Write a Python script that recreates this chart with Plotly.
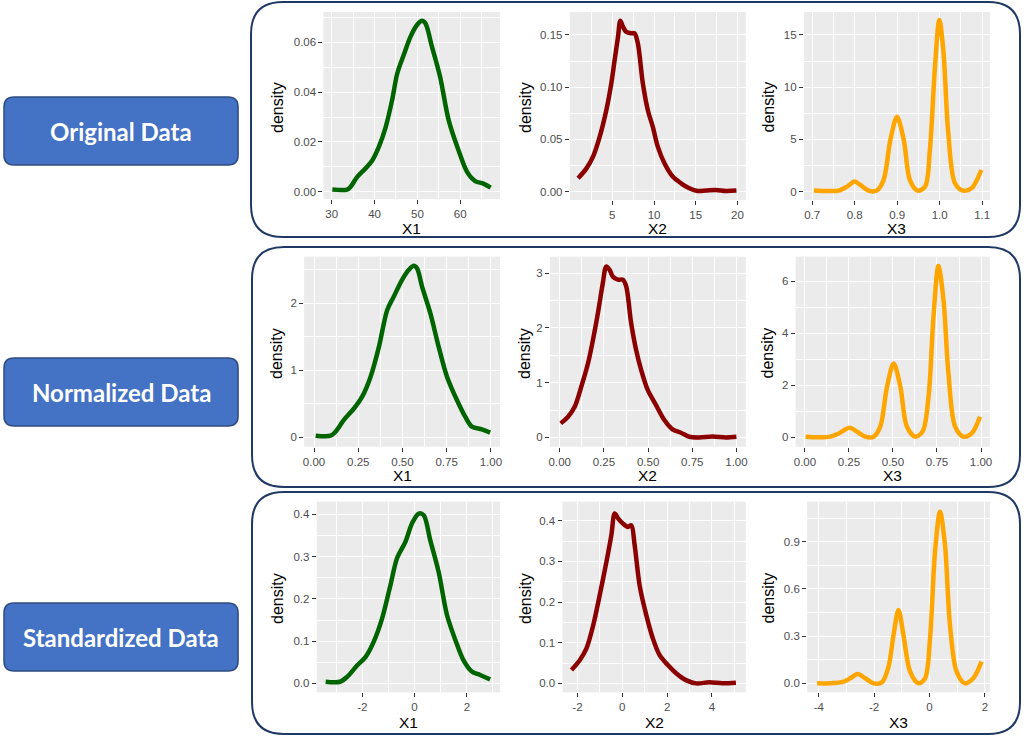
import plotly.graph_objects as go

# ---------------- DATA ----------------
row_labels = ["Original Data", "Normalized Data", "Standardized Data"]
var_names = ["X1", "X2", "X3"]

# Original data
orig_x1_x = [30.15, 33.6, 34.4, 35.97, 37.9, 39.5, 41.0, 42.6, 44.1, 45.3, 46.8, 48.4, 49.9, 51.1, 51.9, 53.4, 55.3, 57.3, 59.6, 61.6, 63.5, 65.4, 67.1]
orig_x1_y = [0.0009, 0.0009, 0.002, 0.006, 0.0094, 0.0127, 0.018, 0.026, 0.0368, 0.0475, 0.0549, 0.0623, 0.067, 0.0687, 0.0676, 0.0583, 0.0462, 0.0288, 0.0167, 0.008, 0.0043, 0.0033, 0.0017]
orig_x2_x = [0.90, 1.90, 2.69, 3.49, 4.28, 4.88, 5.28, 5.68, 5.96, 6.27, 6.67, 7.27, 7.67, 8.06, 8.66, 9.26, 9.85, 10.45, 11.25, 12.24, 13.24, 14.23, 15.23, 16.22, 17.42, 18.61, 19.88]
orig_x2_y = [0.0128, 0.0223, 0.0335, 0.0527, 0.078, 0.1037, 0.126, 0.148, 0.1637, 0.158, 0.153, 0.1516, 0.1516, 0.142, 0.1037, 0.078, 0.0622, 0.0431, 0.0271, 0.0144, 0.008, 0.0032, 0.0006, 0.001, 0.0016, 0.0006, 0.001]
orig_x3_x = [0.704, 0.731, 0.7625, 0.782, 0.80, 0.8133, 0.833, 0.852, 0.868, 0.884, 0.8996, 0.9156, 0.93, 0.948, 0.9656, 0.977, 0.989, 0.9992, 1.0086, 1.0203, 1.036, 1.055, 1.075, 1.098]
orig_x3_y = [0.1, 0.06, 0.1, 0.48, 0.96, 0.64, 0.1, 0.1, 1.1, 4.95, 7.18, 4.95, 1.1, 0.1, 0.48, 4.0, 11.97, 16.44, 13.56, 5.59, 0.8, 0.1, 0.32, 2.07]

# Normalized data
norm_x1_x = [0.0094, 0.094, 0.122, 0.169, 0.226, 0.273, 0.32, 0.367, 0.414, 0.451, 0.498, 0.536, 0.564, 0.583, 0.611, 0.658, 0.705, 0.752, 0.808, 0.855, 0.893, 0.949, 0.996]
norm_x1_y = [0.025, 0.025, 0.085, 0.26, 0.43, 0.61, 0.905, 1.35, 1.90, 2.10, 2.35, 2.50, 2.56, 2.52, 2.25, 1.85, 1.35, 0.905, 0.557, 0.308, 0.159, 0.119, 0.07]
norm_x2_x = [0.0056, 0.047, 0.0846, 0.122, 0.16, 0.188, 0.216, 0.244, 0.263, 0.282, 0.30, 0.329, 0.357, 0.376, 0.404, 0.432, 0.461, 0.498, 0.545, 0.592, 0.639, 0.686, 0.733, 0.789, 0.865, 0.94, 1.0]
norm_x2_y = [0.256, 0.378, 0.56, 0.927, 1.354, 1.78, 2.27, 2.82, 3.12, 3.06, 2.94, 2.88, 2.88, 2.76, 2.09, 1.60, 1.23, 0.866, 0.59, 0.317, 0.146, 0.085, 0.012, 0.0, 0.018, 0.0, 0.012]
norm_x3_x = [0.004, 0.079, 0.145, 0.192, 0.253, 0.296, 0.343, 0.39, 0.428, 0.466, 0.504, 0.542, 0.579, 0.626, 0.668, 0.702, 0.73, 0.758, 0.787, 0.815, 0.853, 0.9, 0.947, 0.994]
norm_x3_y = [0.026, 0.0, 0.026, 0.15, 0.37, 0.22, 0.026, 0.026, 0.41, 1.94, 2.84, 1.94, 0.41, 0.026, 0.22, 1.56, 4.63, 6.58, 5.27, 2.46, 0.41, 0.026, 0.15, 0.79]

# Standardized data
std_x1_x = [-3.40, -2.85, -2.57, -2.19, -1.87, -1.56, -1.24, -0.92, -0.67, -0.35, -0.095, 0.16, 0.35, 0.60, 0.92, 1.24, 1.56, 1.87, 2.19, 2.51, 2.89]
std_x1_y = [0.004, 0.004, 0.016, 0.043, 0.063, 0.099, 0.154, 0.233, 0.296, 0.335, 0.379, 0.402, 0.398, 0.339, 0.264, 0.162, 0.103, 0.055, 0.028, 0.020, 0.0095]
std_x2_x = [-2.27, -1.90, -1.60, -1.30, -1.01, -0.71, -0.49, -0.34, -0.19, 0.03, 0.25, 0.40, 0.55, 0.77, 1.07, 1.36, 1.66, 2.03, 2.40, 2.84, 3.29, 3.88, 4.47, 5.07]
std_x2_y = [0.033, 0.057, 0.086, 0.143, 0.217, 0.299, 0.365, 0.418, 0.406, 0.393, 0.385, 0.389, 0.34, 0.242, 0.168, 0.111, 0.07, 0.045, 0.025, 0.008, 0.0, 0.0025, 0.0, 0.0016]
std_x3_x = [-4.06, -3.58, -3.10, -2.86, -2.60, -2.32, -2.02, -1.72, -1.48, -1.30, -1.12, -0.94, -0.70, -0.40, -0.16, 0.02, 0.20, 0.38, 0.56, 0.74, 0.98, 1.28, 1.58, 1.88]
std_x3_y = [0.0, 0.0, 0.011, 0.032, 0.059, 0.032, 0.0, 0.006, 0.106, 0.307, 0.466, 0.307, 0.074, 0.0, 0.032, 0.286, 0.837, 1.091, 0.879, 0.371, 0.074, 0.0, 0.032, 0.138]

# Tick values / labels
orig_x1_ticks = [30, 40, 50, 60]
orig_x1_ticklabels = ["30", "40", "50", "60"]
orig_x1_yticks = [0, 0.02, 0.04, 0.06]
orig_x1_yticklabels = ["0.00", "0.02", "0.04", "0.06"]
orig_x2_ticks = [5, 10, 15, 20]
orig_x2_ticklabels = ["5", "10", "15", "20"]
orig_x2_yticks = [0, 0.05, 0.10, 0.15]
orig_x2_yticklabels = ["0.00", "0.05", "0.10", "0.15"]
orig_x3_ticks = [0.7, 0.8, 0.9, 1.0, 1.1]
orig_x3_ticklabels = ["0.7", "0.8", "0.9", "1.0", "1.1"]
orig_x3_yticks = [0, 5, 10, 15]
orig_x3_yticklabels = ["0", "5", "10", "15"]
norm_ticks = [0, 0.25, 0.5, 0.75, 1.0]
norm_ticklabels = ["0.00", "0.25", "0.50", "0.75", "1.00"]
norm_x1_yticks = [0, 1, 2]
norm_x2_yticks = [0, 1, 2, 3]
norm_x3_yticks = [0, 2, 4, 6]
std_x1_ticks = [-2, 0, 2]
std_x2_ticks = [-2, 0, 2, 4]
std_x3_ticks = [-4, -2, 0, 2]
std_x12_yticks = [0, 0.1, 0.2, 0.3, 0.4]
std_x12_yticklabels = ["0.0", "0.1", "0.2", "0.3", "0.4"]
std_x3_yticks = [0, 0.3, 0.6, 0.9]
std_x3_yticklabels = ["0.0", "0.3", "0.6", "0.9"]

# ---------------- LAYOUT / STYLE ----------------
W, H = 1024, 741
colors = ["#006400", "#8B0000", "#FFA500"]

def px_x(v):
    return v / W

def px_y(v):
    return 1 - v / H

def minor_of(ticks, lo, hi):
    step = ticks[1] - ticks[0]
    vals = []
    m = ticks[0] - step / 2
    while m <= hi:
        if m >= lo:
            vals.append(m)
        m += step
    return vals

panels = [
    # row 1
    dict(x=orig_x1_x, y=orig_x1_y, px=(322.7, 500), py=(12, 199), xr=(28.07, 69.3), yr=(-0.0029, 0.0722),
         xt=orig_x1_ticks, xtl=orig_x1_ticklabels, yt=orig_x1_yticks, ytl=orig_x1_yticklabels),
    dict(x=orig_x2_x, y=orig_x2_y, px=(570, 746.7), py=(12, 200), xr=(-0.10, 21.0), yr=(-0.008, 0.172),
         xt=orig_x2_ticks, xtl=orig_x2_ticklabels, yt=orig_x2_yticks, ytl=orig_x2_yticklabels),
    dict(x=orig_x3_x, y=orig_x3_y, px=(805, 991.7), py=(12, 200), xr=(0.6805, 1.118), yr=(-0.8, 17.2),
         xt=orig_x3_ticks, xtl=orig_x3_ticklabels, yt=orig_x3_yticks, ytl=orig_x3_yticklabels),
    # row 2
    dict(x=norm_x1_x, y=norm_x1_y, px=(303.3, 500), py=(256.7, 446.7), xr=(-0.056, 1.052), yr=(-0.14, 2.696),
         xt=norm_ticks, xtl=norm_ticklabels, yt=norm_x1_yticks, ytl=[str(v) for v in norm_x1_yticks]),
    dict(x=norm_x2_x, y=norm_x2_y, px=(550, 746.7), py=(256.7, 446.7), xr=(-0.056, 1.053), yr=(-0.17, 3.30),
         xt=norm_ticks, xtl=norm_ticklabels, yt=norm_x2_yticks, ytl=[str(v) for v in norm_x2_yticks]),
    dict(x=norm_x3_x, y=norm_x3_y, px=(796.7, 991.7), py=(256.7, 446.7), xr=(-0.053, 1.05), yr=(-0.36, 6.94),
         xt=norm_ticks, xtl=norm_ticklabels, yt=norm_x3_yticks, ytl=[str(v) for v in norm_x3_yticks]),
    # row 3
    dict(x=std_x1_x, y=std_x1_y, px=(316, 500), py=(501.7, 692.3), xr=(-3.74, 3.27), yr=(-0.021, 0.43),
         xt=std_x1_ticks, xtl=[str(v) for v in std_x1_ticks], yt=std_x12_yticks, ytl=std_x12_yticklabels),
    dict(x=std_x2_x, y=std_x2_y, px=(562.7, 746.7), py=(501.7, 692.3), xr=(-2.67, 5.51), yr=(-0.022, 0.447),
         xt=std_x2_ticks, xtl=[str(v) for v in std_x2_ticks], yt=std_x12_yticks, ytl=std_x12_yticklabels),
    dict(x=std_x3_x, y=std_x3_y, px=(808.3, 991.7), py=(501.7, 692.3), xr=(-4.42, 2.18), yr=(-0.057, 1.155),
         xt=std_x3_ticks, xtl=[str(v) for v in std_x3_ticks], yt=std_x3_yticks, ytl=std_x3_yticklabels),
]

FONT = "Liberation Sans, Arial, sans-serif"
fig = go.Figure()
layout = dict(
    width=W, height=H, autosize=False,
    margin=dict(l=0, r=0, t=0, b=0),
    paper_bgcolor="white", plot_bgcolor="#EBEBEB",
    showlegend=False,
    font=dict(family=FONT),
)
annotations = []
shapes = []

for i, p in enumerate(panels):
    n = i + 1
    sfx = "" if n == 1 else str(n)
    col = i % 3
    fig.add_trace(go.Scatter(
        x=p["x"], y=p["y"], mode="lines",
        line=dict(color=colors[col], width=4.5, shape="spline", smoothing=0.9),
        xaxis="x" + sfx, yaxis="y" + sfx, hoverinfo="skip"))
    common = dict(
        showgrid=True, gridcolor="white", gridwidth=1.4, zeroline=False, showline=False,
        ticks="outside", ticklen=4, tickwidth=1.1, tickcolor="#333333",
        tickfont=dict(family=FONT, size=11.5, color="#4D4D4D"), tickmode="array",
    )
    layout["xaxis" + sfx] = dict(
        common, domain=[px_x(p["px"][0]), px_x(p["px"][1])], range=list(p["xr"]),
        anchor="y" + sfx, tickvals=p["xt"], ticktext=p["xtl"],
        minor=dict(tickmode="array", tickvals=minor_of(p["xt"], *p["xr"]), showgrid=True,
                   gridcolor="white", gridwidth=0.7, ticks=""),
    )
    layout["yaxis" + sfx] = dict(
        common, domain=[px_y(p["py"][1]), px_y(p["py"][0])], range=list(p["yr"]),
        anchor="x" + sfx, tickvals=p["yt"], ticktext=p["ytl"],
        minor=dict(tickmode="array", tickvals=minor_of(p["yt"], *p["yr"]), showgrid=True,
                   gridcolor="white", gridwidth=0.7, ticks=""),
    )
    # axis titles
    row = i // 3
    xt_y = [229, 475, 722][row]
    annotations.append(dict(
        text=var_names[col], x=px_x((p["px"][0] + p["px"][1]) / 2), y=px_y(xt_y),
        xref="paper", yref="paper", showarrow=False, xanchor="center", yanchor="middle",
        font=dict(family=FONT, size=15.5, color="black")))
    dens_x = [276, 525, 769.5][col]
    dens_y = [107, 353, 598][row]
    annotations.append(dict(
        text="density", x=px_x(dens_x), y=px_y(dens_y), textangle=-90,
        xref="paper", yref="paper", showarrow=False, xanchor="center", yanchor="middle",
        font=dict(family=FONT, size=16, color="black")))


def rounded_path(x0, y0, x1, y1, r):
    # pixel coords (y down) -> paper coords
    rx, ry = r / W, r / H
    X0, X1 = px_x(x0), px_x(x1)
    Yt, Yb = px_y(y0), px_y(y1)
    return (f"M {X0 + rx},{Yt} L {X1 - rx},{Yt} Q {X1},{Yt} {X1},{Yt - ry} "
            f"L {X1},{Yb + ry} Q {X1},{Yb} {X1 - rx},{Yb} "
            f"L {X0 + rx},{Yb} Q {X0},{Yb} {X0},{Yb + ry} "
            f"L {X0},{Yt - ry} Q {X0},{Yt} {X0 + rx},{Yt} Z")

# row frames
frames = [(250, 2, 1022, 237), (251, 247, 1022, 487), (251, 492, 1022, 734)]
for (x0, y0, x1, y1) in frames:
    shapes.append(dict(type="path", path=rounded_path(x0, y0, x1, y1, 32),
                       xref="paper", yref="paper", line=dict(color="#1F3864", width=2),
                       fillcolor="rgba(0,0,0,0)", layer="below"))

# blue label boxes
boxes = [(2, 97, 237, 165), (2, 358, 237, 426), (2, 603, 237, 671)]
for (x0, y0, x1, y1), lab in zip(boxes, row_labels):
    shapes.append(dict(type="path", path=rounded_path(x0, y0, x1, y1, 10),
                       xref="paper", yref="paper", line=dict(color="#2F4C80", width=1.5),
                       fillcolor="#4472C4", layer="above"))
    annotations.append(dict(
        text="<b>" + lab + "</b>", x=px_x((x0 + x1) / 2), y=px_y((y0 + y1) / 2),
        xref="paper", yref="paper", showarrow=False, xanchor="center", yanchor="middle",
        font=dict(family="Lato, Open Sans, sans-serif", size=24, color="white")))

layout["annotations"] = annotations
layout["shapes"] = shapes
fig.update_layout(**layout)
fig.write_html("out.html", config={"displayModeBar": False},
               post_script="document.body.style.margin='0px';document.body.style.overflow='hidden';")
